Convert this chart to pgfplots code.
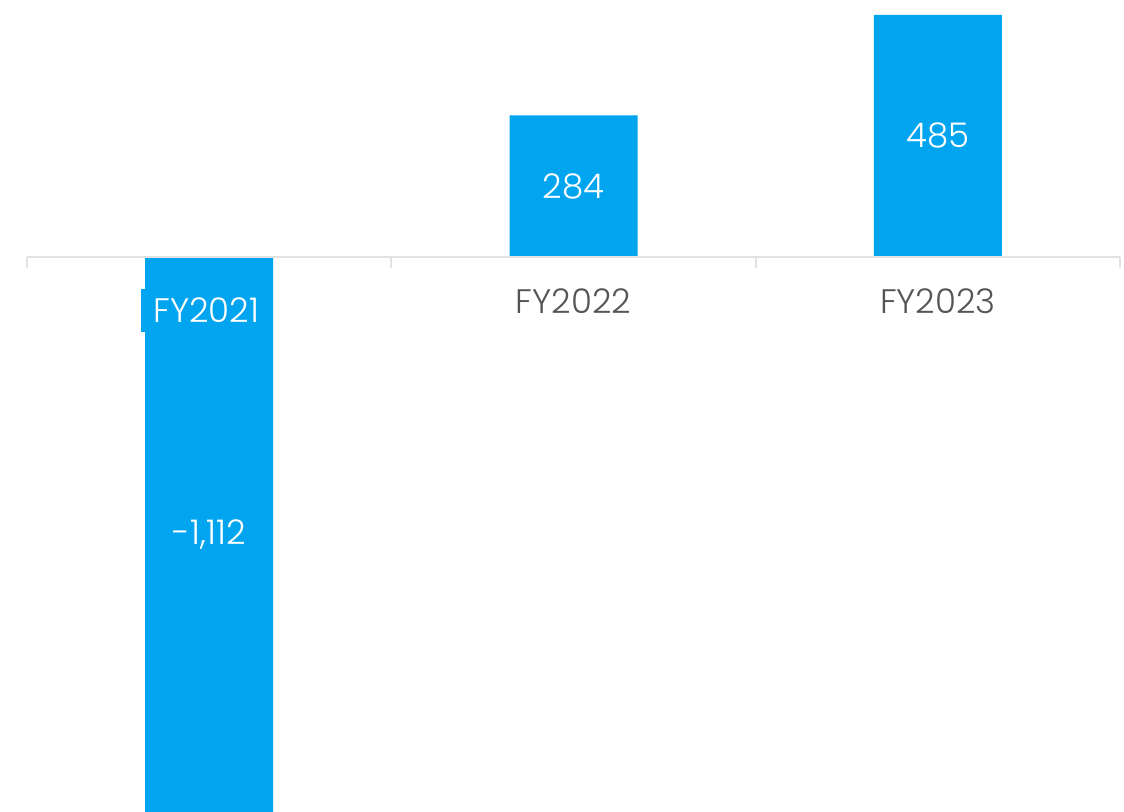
\documentclass[border=0pt]{standalone}
\usepackage{pgfplots}
\pgfplotsset{compat=1.18}
\usepackage{fontspec}
\setmainfont{Poppins}[UprightFont=* Light]
\definecolor{barblue}{RGB}{0,164,239}
\definecolor{labgrey}{RGB}{85,85,85}
\definecolor{axgrey}{RGB}{226,226,226}
\begin{document}
\begin{tikzpicture}
\path[use as bounding box] (-13.5pt,0) rectangle (548.5pt,406pt);
\begin{axis}[
  at={(0,0)}, anchor=south west,
  width=546.5pt, height=406pt, scale only axis,
  xmin=-0.5, xmax=2.5, ymin=-1112, ymax=515,
  hide y axis,
  axis x line*=middle,
  axis on top,
  x axis line style={axgrey, line width=1pt},
  xtick={0,1,2},
  xticklabels={{\hspace{-3pt}\setlength{\fboxsep}{4.5pt}\colorbox{barblue}{\hspace{1.5pt}\textcolor{white}{FY2021}\hspace{1.5pt}}},FY2022,FY2023},
  major tick length=0pt,
  minor xtick={-0.5,0.5,1.5,2.5},
  minor tick length=5.5pt,
  xtick align=outside,
  minor tick style={axgrey, line width=1pt},
  xticklabel style={font=\fontsize{17}{20}\selectfont, text=labgrey, yshift=-12.5pt},
]
\addplot[ybar, bar width=64pt, bar shift=0pt, fill=barblue, draw=none,
  nodes near coords, point meta=explicit symbolic,
  nodes near coords align={center},
  visualization depends on=y \as \rawy,
  every node near coord/.append style={anchor=center, text=white,
    font=\fontsize{17}{20}\selectfont,
    shift={(axis direction cs:0,-\rawy/2)}}]
  table[meta=label] {
x y label
0 -1112 -1,112
1 284 284
2 485 485
};
\end{axis}
\end{tikzpicture}
\end{document}
